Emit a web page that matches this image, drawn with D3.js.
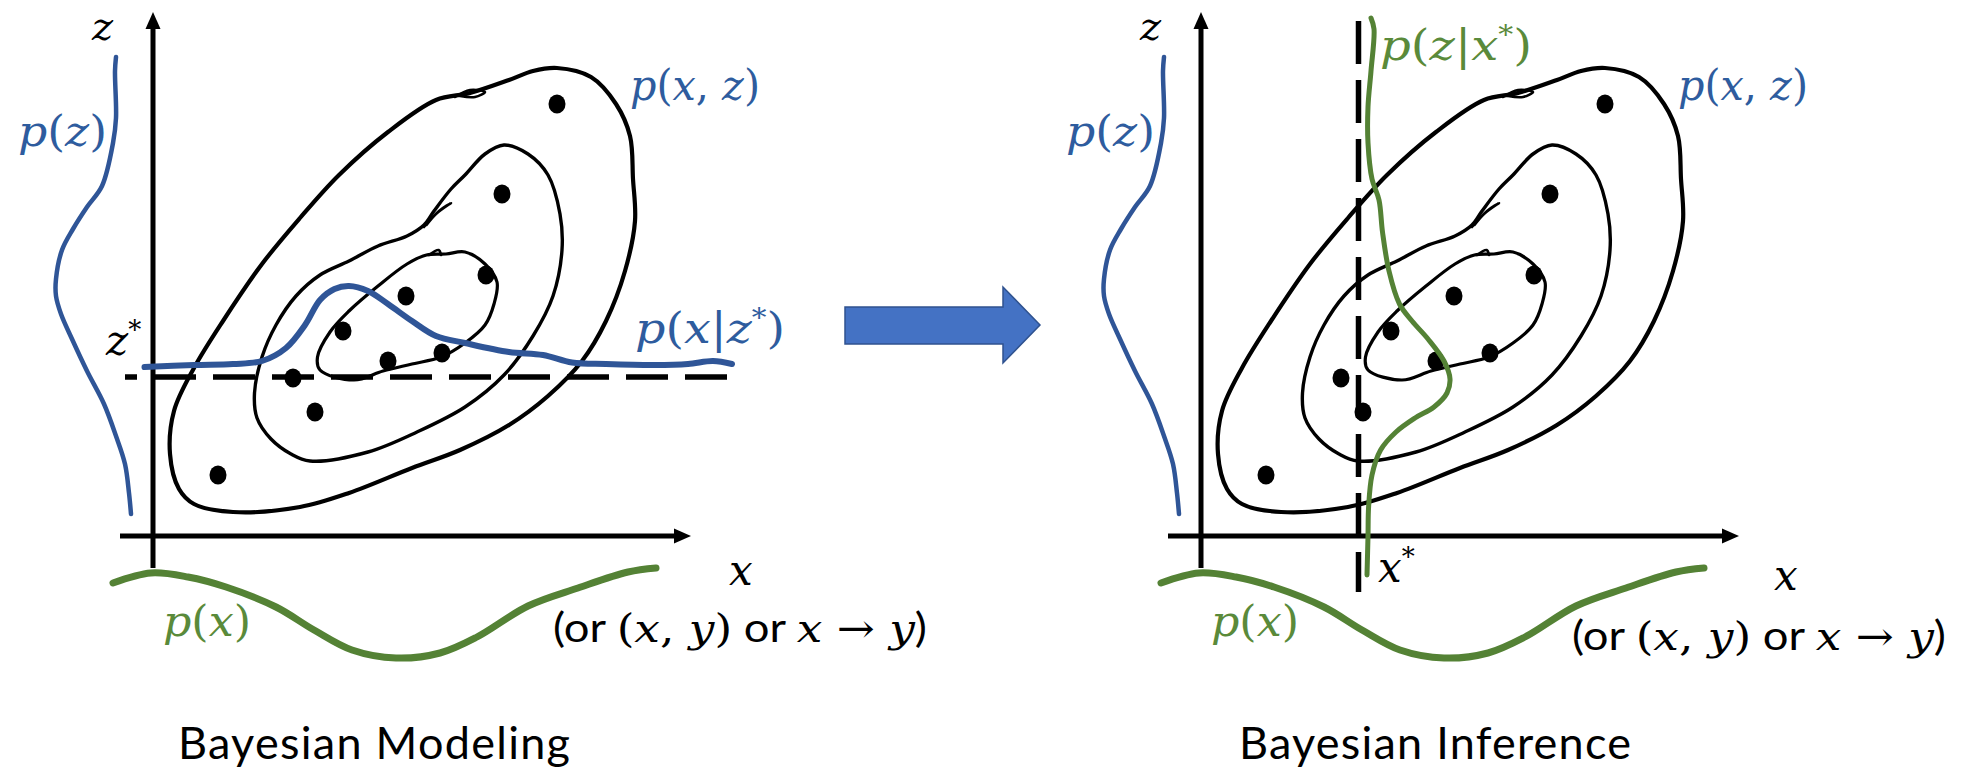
<!DOCTYPE html>
<html><head><meta charset="utf-8">
<script src="https://cdn.jsdelivr.net/npm/d3@7"></script>
<style>body{margin:0;background:#fff}svg{display:block}</style>
</head><body>
<svg id="c" width="1969" height="772"></svg>
<script>
// ---- data (diagram units: u along x-axis, v along z-axis, origin at axis crossing) ----
const outerContour = [[404,468],[438,459],[463,432],[477,400],[480,357],[482,315],[472,265],[453,215],[429,175],[395,140],[356,111],[307,86],[259,68],[196,43],[147,29],[80,24],[41,32],[26,47],[17,82],[21,125],[41,168],[70,215],[109,272],[147,318],[186,361],[235,404],[283,436],[317,443],[356,456],[380,465]];
const middleContour = [[351,391],[375,382],[395,361],[407,322],[409,286],[400,240],[380,200],[351,161],[312,129],[264,104],[215,84],[157,75],[138,82],[118,97],[104,118],[101.5,143],[109,179],[123,211],[143,240],[167,261],[196,275],[225,290],[254,300],[271,311],[281,325],[298,347],[312,361],[332,382]];
const innerContour = [[312,284],[332,272],[344,254],[341,232],[332,211],[312,193],[288,179],[259,172],[230,165],[201,156],[167,166],[164.5,179],[177,204],[196,225],[225,250],[254,272],[273.5,281],[293,282]];
const penKinks = [
  [[271,309],[286,325],[298,333],[283,322],[273.5,311]],
  [[276,281],[285.7,286],[288,281]],
  [[302,439],[317,446],[332,444],[322,439],[307,440]]
];
const samples = [[404,432],[349,342],[333,261],[253,240],[190,205],[235,175],[289,183],[140,158],[162,124],[65,61]];
const marginalZ = [[-37,479],[-38,465],[-37,418],[-40,393],[-51,350],[-66,329],[-80,307],[-91,286],[-97,257],[-97,240],[-92,222],[-81,197],[-66,165],[-49,132],[-37,100],[-28,72],[-24,43],[-22,22]];
const marginalX = [[-40,-47],[-2,-37],[35,-41],[73,-51],[123,-71],[161,-94],[199,-114],[243,-122],[287,-117],[324,-101],[375,-70],[425,-52],[475,-36],[503,-32]];
const condXgivenZ = [[-8.5,169],[41,171],[80,172],[109,175],[133,188],[152,211],[167,236],[181.5,247],[196,250],[215,245],[235,232],[259,215],[283,200],[312,193],[356,184],[390,181],[419,173.5],[453,172],[501,171],[535,172],[560,175],[579,172]];
const condZgivenX = [[170,518],[173,507],[170,465],[167,429],[167,393],[171,357],[178,336],[181.5,304],[188,265],[198.5,232],[211,215],[227,197],[243,175],[249,157],[246,143],[233,129],[214,118],[195,104],[179.6,86],[171,61],[167.6,29],[167,0],[166,-39]];
const zStar = 159, zStarSpan = [-28, 579];
const xStar = 157.5, xStarSpan = [-56, 515];
const xAxisSpan = [-33, 538], zAxisSpan = [-32, 524];
const panelTitles = ["Bayesian Modeling", "Bayesian Inference"];

// ---- layout ----
const BLUE = "#2F5597", GREEN = "#548235", BLUE_TXT = "#2E5C9E", GREEN_TXT = "#5A8A3A";
const panelX0 = [153, 1201], Y0 = 536;
const svg = d3.select("#c");

function scales(i){
  return {
    x: d3.scaleLinear().domain([0,540]).range([panelX0[i], panelX0[i]+540]),
    y: d3.scaleLinear().domain([0,524]).range([Y0, Y0-524])
  };
}

function mathText(x, y, parts, o){
  const size = o.size || 42;
  const t = svg.append("text").attr("x", x).attr("y", y).attr("fill", o.color || "#000").attr("font-size", size);
  let sup = false;
  parts.forEach(([s,k]) => {
    const ts = t.append("tspan").text(s);
    if (k === "i") ts.attr("font-family","DejaVu Serif").attr("font-style","italic");
    else if (k === "n") ts.attr("font-family","DejaVu Serif");
    else if (k === "s") ts.attr("font-family","Lato");
    if (k === "sup") {
      ts.attr("font-family","DejaVu Serif").attr("font-size", size*0.62).attr("dy", -size*0.38);
      sup = true;
    } else if (sup) { ts.attr("dy", size*0.38); sup = false; }
  });
  if (o.width) t.attr("textLength", o.width).attr("lengthAdjust", o.adjust || "spacingAndGlyphs");
  return t;
}

[0,1].forEach(i => {
  const {x, y} = scales(i);
  const g = svg.append("g");
  const line = d3.line().x(d => x(d[0])).y(d => y(d[1])).curve(d3.curveCatmullRom.alpha(0.5));
  const closed = d3.line().x(d => x(d[0])).y(d => y(d[1])).curve(d3.curveCatmullRomClosed.alpha(0.5));

  // axes
  g.append("line").attr("x1", x(0)).attr("x2", x(0)).attr("y1", y(zAxisSpan[0])).attr("y2", y(zAxisSpan[1]-14))
    .attr("stroke","#000").attr("stroke-width",5);
  g.append("path").attr("d", `M${x(0)},${y(zAxisSpan[1])} L${x(0)-7.5},${y(zAxisSpan[1]-17)} L${x(0)+7.5},${y(zAxisSpan[1]-17)} Z`).attr("fill","#000");
  g.append("line").attr("x1", x(xAxisSpan[0])).attr("x2", x(xAxisSpan[1]-14)).attr("y1", y(0)).attr("y2", y(0))
    .attr("stroke","#000").attr("stroke-width",5);
  g.append("path").attr("d", `M${x(xAxisSpan[1])},${y(0)} L${x(xAxisSpan[1]-17)},${y(0)-7.5} L${x(xAxisSpan[1]-17)},${y(0)+7.5} Z`).attr("fill","#000");

  // contours
  [[outerContour,4.2],[middleContour,3.4],[innerContour,3.2]].forEach(([c,w]) => {
    g.append("path").attr("d", closed(c)).attr("fill","none").attr("stroke","#000").attr("stroke-width",w).attr("stroke-linejoin","round");
  });
  penKinks.forEach(k => {
    g.append("path").attr("d", line(k)).attr("fill","none").attr("stroke","#000").attr("stroke-width",2.6).attr("stroke-linecap","round");
  });
  // samples
  g.selectAll("ellipse.s").data(samples).join("ellipse").attr("class","s")
    .attr("cx", d => x(d[0])).attr("cy", d => y(d[1])).attr("rx", 8.5).attr("ry", 9.5).attr("fill","#000");

  // marginals
  g.append("path").attr("d", line(marginalZ)).attr("fill","none").attr("stroke",BLUE).attr("stroke-width",4.5).attr("stroke-linecap","round");
  g.append("path").attr("d", line(marginalX)).attr("fill","none").attr("stroke",GREEN).attr("stroke-width",7).attr("stroke-linecap","round");

  if (i === 0) {
    g.append("line").attr("x1", x(zStarSpan[0])).attr("x2", x(zStarSpan[1])).attr("y1", y(zStar)).attr("y2", y(zStar))
      .attr("stroke","#000").attr("stroke-width",5.5).attr("stroke-dasharray","42 17").attr("stroke-dashoffset",30);
    g.append("path").attr("d", line(condXgivenZ)).attr("fill","none").attr("stroke",BLUE).attr("stroke-width",6).attr("stroke-linecap","round");
  } else {
    g.append("line").attr("x1", x(xStar)).attr("x2", x(xStar)).attr("y1", y(xStarSpan[1])).attr("y2", y(xStarSpan[0]))
      .attr("stroke","#000").attr("stroke-width",5.5).attr("stroke-dasharray","43 16");
    g.append("path").attr("d", line(condZgivenX)).attr("fill","none").attr("stroke",GREEN).attr("stroke-width",5).attr("stroke-linecap","round");
  }
});

// ---- labels ----
const dx = 1048;
[0, dx].forEach((o, i) => {
  mathText(92+o, 40, [["z","i"]], {size:40});
  mathText(18+o, 146, [["p","i"],["(","n"],["z","i"],[")","n"]], {color:BLUE_TXT, width:89});
  mathText(630+o, 100, [["p","i"],["(","n"],["x","i"],[", ","n"],["z","i"],[")","n"]], {color:BLUE_TXT, width:130});
  mathText(163+o, 636, [["p","i"],["(","n"],["x","i"],[")","n"]], {color:GREEN_TXT, width:88});
});
mathText(729, 585, [["x","i"]], {});
mathText(1774, 590, [["x","i"]], {});
mathText(106, 355, [["z","i"],["*","sup"]], {});
mathText(635, 343, [["p","i"],["(","n"],["x","i"],["|","n"],["z","i"],["*","sup"],[")","n"]], {color:BLUE_TXT, width:150});
mathText(1380, 60, [["p","i"],["(","n"],["z","i"],["|","n"],["x","i"],["*","sup"],[")","n"]], {color:GREEN_TXT, width:152});
mathText(1378, 582, [["x","i"],["*","sup"]], {});

const orParts = [["(or ","s"],["(","n"],["x","i"],[", ","n"],["y","i"],[")","n"],[" or ","s"],["x","i"],[" → ","n"],["y","i"],[")","s"]];
mathText(553, 642, orParts, {size:40, width:374});
mathText(1572, 650, orParts, {size:40, width:374});

panelTitles.forEach((t, i) => {
  svg.append("text").attr("x", [374, 1435][i]).attr("y", 759).attr("text-anchor","middle")
    .attr("font-family","Lato").attr("font-size", 45).attr("fill","#000")
    .attr("textLength", 392).attr("lengthAdjust","spacing").text(t);
});

// ---- block arrow between panels ----
const arrow = d3.path();
arrow.moveTo(845,307); arrow.lineTo(1003,307); arrow.lineTo(1003,287); arrow.lineTo(1040,325);
arrow.lineTo(1003,363); arrow.lineTo(1003,344); arrow.lineTo(845,344); arrow.closePath();
svg.append("path").attr("d", arrow.toString()).attr("fill","#4472C4").attr("stroke","#2F528F").attr("stroke-width",1.5);
</script>
</body></html>
